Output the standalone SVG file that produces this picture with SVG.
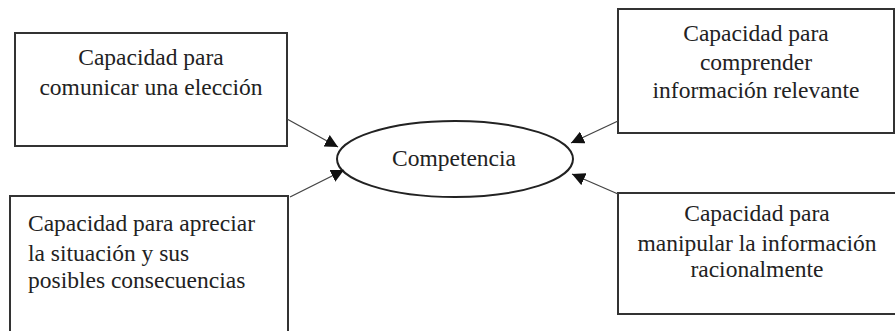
<svg xmlns="http://www.w3.org/2000/svg" width="895" height="331" viewBox="0 0 895 331">
<defs>
<style>
.box{fill:#fff;stroke:#333;stroke-width:2}
.con line{stroke:#444;stroke-width:1.3}
</style>
<marker id="ah" viewBox="0 0 10 10" refX="10" refY="5" markerWidth="13" markerHeight="13" markerUnits="userSpaceOnUse" orient="auto">
<path d="M0,0 L10,5 L0,10 z" fill="#111"/>
</marker>
</defs>
<rect width="895" height="331" fill="#fff"/>
<g font-family="'Times New Roman', Times, Tinos, 'Liberation Serif', 'DejaVu Serif', serif" font-size="23.5" fill="#222">
<g id="n1" text-anchor="middle">
<rect class="box" x="15" y="33" width="272" height="113"/>
<text x="151" y="65">Capacidad para</text>
<text x="151" y="95">comunicar una elección</text>
</g>
<g id="n2">
<rect class="box" x="10" y="196" width="278" height="150"/>
<text x="28" y="231">Capacidad para apreciar</text>
<text x="28" y="261">la situación y sus</text>
<text x="28" y="288">posibles consecuencias</text>
</g>
<g id="n3" text-anchor="middle">
<rect class="box" x="618" y="9" width="276" height="124"/>
<text x="756" y="41">Capacidad para</text>
<text x="756" y="70">comprender</text>
<text x="756" y="98">información relevante</text>
</g>
<g id="n4" text-anchor="middle">
<rect class="box" x="618" y="193" width="280" height="121"/>
<text x="757" y="221">Capacidad para</text>
<text x="757" y="251">manipular la información</text>
<text x="757" y="277">racionalmente</text>
</g>
<g id="center" text-anchor="middle">
<ellipse cx="455" cy="159" rx="118" ry="38" fill="#fff" stroke="#222" stroke-width="2"/>
<text x="454" y="166">Competencia</text>
</g>
</g>
<g id="connectors" class="con">
<line x1="287" y1="119" x2="338" y2="147" marker-end="url(#ah)"/>
<line x1="290" y1="197" x2="344" y2="170" marker-end="url(#ah)"/>
<line x1="618" y1="121" x2="571" y2="143" marker-end="url(#ah)"/>
<line x1="618" y1="194" x2="572" y2="174" marker-end="url(#ah)"/>
</g>
</svg>
